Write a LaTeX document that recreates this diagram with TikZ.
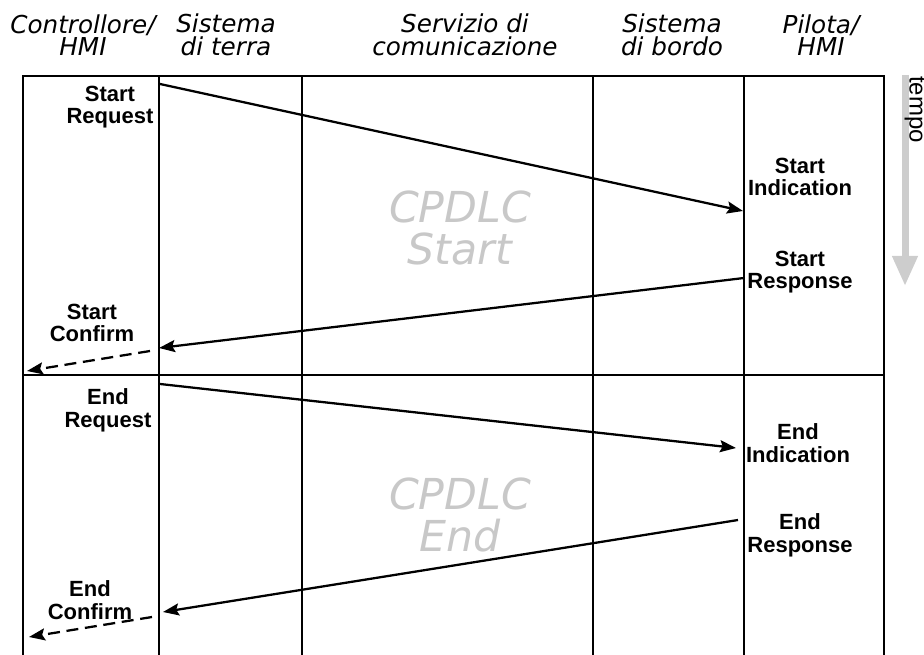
\documentclass[tikz,border=0pt]{standalone}
\usepackage{fontspec}
\setmainfont{Liberation Sans}
\newfontfamily\headfont{DejaVu Sans}
\usetikzlibrary{arrows.meta}
\definecolor{ghost}{RGB}{200,200,200}
\definecolor{timegray}{RGB}{205,205,205}
\begin{document}
\begin{tikzpicture}[x=0.75pt,y=-0.75pt,
  lane/.style={line width=1pt},
  divider/.style={line width=1.2pt},
  msg/.style={line width=1.7pt,-{Stealth[length=12pt,width=9pt,inset=2pt]}},
  relay/.style={msg,dash pattern=on 9pt off 5pt},
  header/.style={font=\headfont\itshape\fontsize{18.5}{17}\selectfont,align=center,inner sep=0pt},
  prim/.style={font=\bfseries\fontsize{16.5}{17}\selectfont,align=center,inner sep=0pt},
  phase/.style={font=\headfont\itshape\fontsize{32}{32}\selectfont,text=ghost,align=center,inner sep=0pt},
  timeline/.style={draw=timegray,line width=5.25pt,-{Triangle[length=22.5pt,width=18pt]}},
]
\useasboundingbox (0,0) rectangle (924,655);

% lane headers
\node[header] (h1) at (83,35)  {Controllore/\\HMI};
\node[header] (h2) at (226,35) {Sistema\\di terra};
\node[header] (h3) at (465,35) {Servizio di\\comunicazione};
\node[header] (h4) at (672,35) {Sistema\\di bordo};
\node[header] (h5) at (821,35) {Pilota/\\HMI};

% lane grid
\draw[lane] (23,655) -- (23,76) -- (884,76) -- (884,655);
\foreach \lx in {159,302,593,744} \draw[lane] (\lx,76) -- (\lx,655);
\draw[divider] (23,375) -- (884,375);

% phase titles
\node[phase] (ph1) at (460,228) {CPDLC\\Start};
\node[phase] (ph2) at (460,515) {CPDLC\\End};

% service primitives
\node[prim] (p1) at (110,107) {Start\\Request};
\node[prim] (p2) at (800,177) {Start\\Indication};
\node[prim] (p3) at (800,272) {Start\\Response};
\node[prim] (p4) at (92,323)  {Start\\Confirm};
\node[prim] (p5) at (108,410) {End\\Request};
\node[prim] (p6) at (798,443) {End\\Indication};
\node[prim] (p7) at (800,535) {End\\Response};
\node[prim] (p8) at (90,600)  {End\\Confirm};

% message end points
\coordinate (sreq0) at (160,84);
\coordinate (sreq1) at (743,211);
\coordinate (sres0) at (744,278);
\coordinate (sres1) at (159,348);
\coordinate (scnf0) at (150,351);
\coordinate (scnf1) at (27,371);
\coordinate (ereq0) at (160,384);
\coordinate (ereq1) at (736,448);
\coordinate (eres0) at (738,520);
\coordinate (eres1) at (163,612);
\coordinate (ecnf0) at (152,617);
\coordinate (ecnf1) at (29,637);

\draw[msg] (sreq0) -- (sreq1);
\draw[msg] (sres0) -- (sres1);
\draw[relay] (scnf0) -- (scnf1);
\draw[msg] (ereq0) -- (ereq1);
\draw[msg] (eres0) -- (eres1);
\draw[relay] (ecnf0) -- (ecnf1);

% time axis
\coordinate (t0) at (905,75);
\coordinate (t1) at (905,286);
\draw[timeline] (t0) -- (t1);
\node[rotate=-90,anchor=west,font=\fontsize{18}{18}\selectfont,inner sep=0pt] (tempo) at (915,76) {tempo};
\end{tikzpicture}
\end{document}
